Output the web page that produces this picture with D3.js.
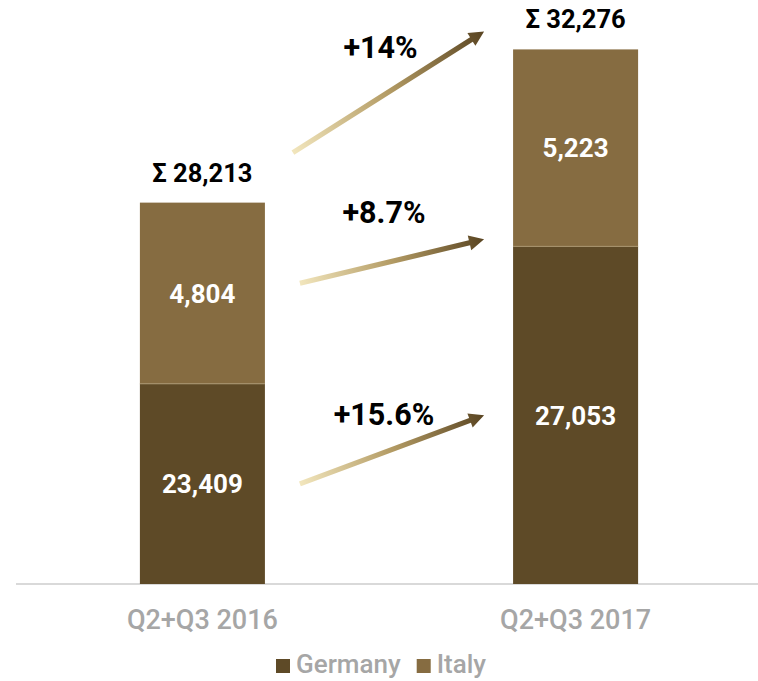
<!DOCTYPE html>
<html>
<head>
<meta charset="utf-8">
<script src="https://cdn.jsdelivr.net/npm/d3@7"></script>
<style>
  html, body { margin: 0; padding: 0; background: #fff; }
  svg { display: block; }
  text { font-family: Roboto, "Open Sans", "DejaVu Sans", sans-serif; }
</style>
</head>
<body>
<svg id="chart" width="758" height="681"></svg>
<script>
// Categories and series values
const categories = ["Q2+Q3 2016", "Q2+Q3 2017"];
const seriesNames = ["Germany", "Italy"];
const germany = [23409, 27053];
const italy = [4804, 5223];
const growthLabels = ["+15.6%", "+8.7%", "+14%"]; // Germany, Italy, total

const colors = { Germany: "#5e4a27", Italy: "#866c41" };

const svg = d3.select("#chart");

const rows = categories.map((c, i) => ({ category: c, Germany: germany[i], Italy: italy[i] }));
const stacked = d3.stack().keys(seriesNames)(rows);
const totals = rows.map(r => r.Germany + r.Italy);

// Value axis starts above zero (truncated), baseline at y = 584
const y = d3.scaleLinear().domain([18100, 32300]).range([584, 48.5]);
const x = d3.scaleBand().domain(categories).range([16, 762])
  .paddingInner(0.665).paddingOuter(0.332);
const bw = x.bandwidth();
const y0 = y.domain()[0];

// Baseline
svg.append("line")
  .attr("x1", 16).attr("x2", 758)
  .attr("y1", y(y0)).attr("y2", y(y0))
  .attr("stroke", "#d9d9d9").attr("stroke-width", 2);

// Bars
const layers = svg.append("g").selectAll("g").data(stacked).join("g")
  .attr("fill", d => colors[d.key]);
layers.selectAll("rect").data(d => d).join("rect")
  .attr("x", d => x(d.data.category))
  .attr("width", bw)
  .attr("y", d => y(d[1]))
  .attr("height", d => y(Math.max(d[0], y0)) - y(d[1]));

// Thin light seam between stacked segments
svg.append("g").selectAll("line").data(rows).join("line")
  .attr("x1", d => x(d.category)).attr("x2", d => x(d.category) + bw)
  .attr("y1", d => y(d.Germany)).attr("y2", d => y(d.Germany))
  .attr("stroke", "#a8946e").attr("stroke-width", 1);

// Segment value labels
const fmt = d3.format(",");
stacked.forEach(layer => {
  svg.append("g").selectAll("text").data(layer).join("text")
    .attr("x", d => x(d.data.category) + bw / 2)
    .attr("y", d => (y(Math.max(d[0], y0)) + y(d[1])) / 2)
    .attr("dy", "0.36em")
    .attr("text-anchor", "middle")
    .attr("fill", "#fff")
    .attr("font-weight", 700)
    .attr("font-size", 26)
    .text(d => fmt(d[1] - d[0]));
});

// Totals above bars
svg.append("g").selectAll("text").data(rows).join("text")
  .attr("x", d => x(d.category) + bw / 2)
  .attr("y", (d, i) => y(totals[i]) - 21)
  .attr("text-anchor", "middle")
  .attr("fill", "#000")
  .attr("font-weight", 700)
  .attr("font-size", 25.5)
  .text((d, i) => "\u03A3 " + fmt(totals[i]));

// Category labels
svg.append("g").selectAll("text").data(categories).join("text")
  .attr("x", d => x(d) + bw / 2)
  .attr("y", 629)
  .attr("text-anchor", "middle")
  .attr("fill", "#a6a6a6")
  .attr("font-weight", 500)
  .attr("font-size", 27)
  .text(d => d);

// Growth arrows with a pale-to-dark gradient
const defs = svg.append("defs");
const x1 = x(categories[0]) + bw, x2 = x(categories[1]);
const mid = (a, b) => (y(a) + y(b)) / 2;
const arrows = [
  { label: growthLabels[0], sx: x1 + 35, sy: mid(y0, germany[0]), ex: x2 - 29, ey: mid(y0, germany[1]), ly: -36 },
  { label: growthLabels[1], sx: x1 + 35, sy: mid(germany[0], totals[0]) - 10, ex: x2 - 29, ey: y(germany[1]) - 7, ly: -49 },
  { label: growthLabels[2], sx: x1 + 28, sy: y(totals[0]) - 50, ex: x2 - 29, ey: y(totals[1]) - 18, ly: -45 }
];

arrows.forEach((a, i) => {
  const gid = "arrowGrad" + i;
  const g = defs.append("linearGradient").attr("id", gid)
    .attr("gradientUnits", "userSpaceOnUse")
    .attr("x1", a.sx).attr("y1", a.sy).attr("x2", a.ex).attr("y2", a.ey);
  g.append("stop").attr("offset", "0%").attr("stop-color", "#f2e6bd");
  g.append("stop").attr("offset", "50%").attr("stop-color", "#b39b64");
  g.append("stop").attr("offset", "100%").attr("stop-color", "#5a4522");

  const dx = a.ex - a.sx, dy = a.ey - a.sy, len = Math.hypot(dx, dy);
  const ux = dx / len, uy = dy / len, nx = -uy, ny = ux;
  const sw = 2.6, hw = 7.5, hl = 15;
  const nkx = a.ex - ux * hl, nky = a.ey - uy * hl;
  const pts = [
    [a.sx + nx * sw, a.sy + ny * sw],
    [nkx + nx * sw, nky + ny * sw],
    [nkx + nx * hw, nky + ny * hw],
    [a.ex, a.ey],
    [nkx - nx * hw, nky - ny * hw],
    [nkx - nx * sw, nky - ny * sw],
    [a.sx - nx * sw, a.sy - ny * sw]
  ];
  svg.append("path")
    .attr("d", d3.line()(pts) + "Z")
    .attr("fill", `url(#${gid})`);

  svg.append("text")
    .attr("x", (a.sx + a.ex) / 2 - 8)
    .attr("y", (a.sy + a.ey) / 2 + a.ly + 11)
    .attr("text-anchor", "middle")
    .attr("fill", "#000")
    .attr("font-weight", 700)
    .attr("font-size", 30.5)
    .text(a.label);
});

// Legend
const legend = svg.append("g");
let lx = 276;
seriesNames.forEach(name => {
  legend.append("rect").attr("x", lx).attr("y", 659).attr("width", 14).attr("height", 14)
    .attr("fill", colors[name]);
  const t = legend.append("text").attr("x", lx + 20).attr("y", 673)
    .attr("fill", "#a6a6a6").attr("font-weight", 500).attr("font-size", 26).text(name);
  lx += 20 + t.node().getComputedTextLength() + 16;
});
</script>
</body>
</html>
